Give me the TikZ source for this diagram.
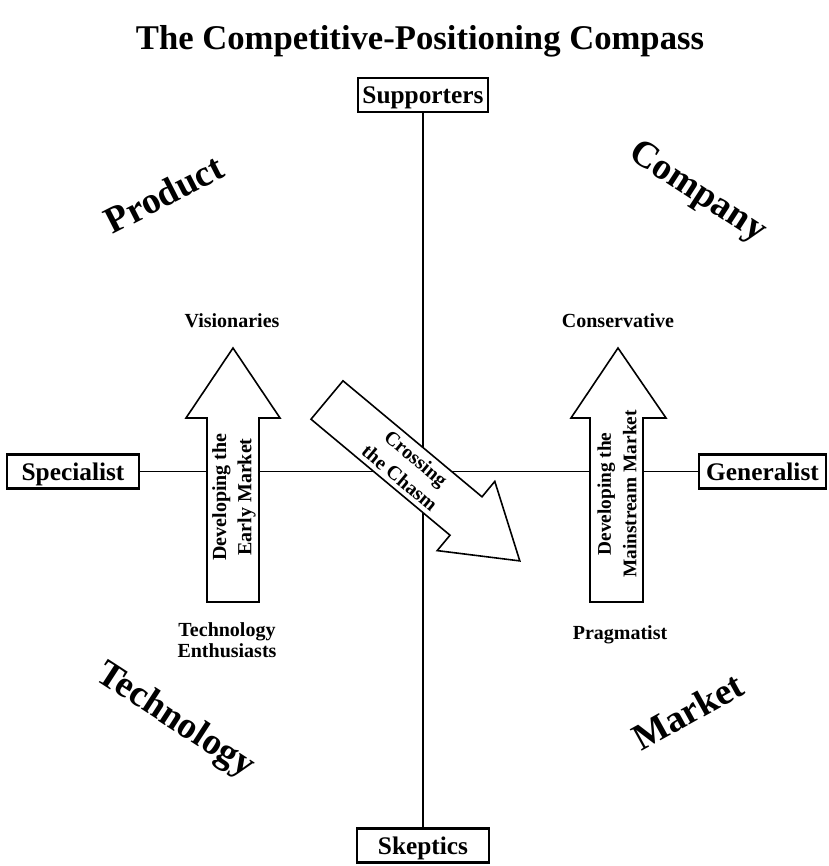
\documentclass[tikz,border=0pt]{standalone}
\usepackage{fontspec}
\setmainfont{Liberation Serif}
\begin{document}
\begin{tikzpicture}[x=0.75pt,y=-0.75pt,
  pole/.style={draw, line width=1.6pt, inner sep=0pt, font=\fontsize{19}{21}\selectfont\bfseries, minimum height=25.5pt, text height=17pt, text depth=4pt},
  axisline/.style={line width=1.3pt},
  bigarrow/.style={draw, line width=1.2pt, fill=white, line join=miter},
  lbl/.style={font=\fontsize{15}{16}\selectfont\bfseries, align=center, inner sep=0pt},
  arrtext/.style={font=\fontsize{15}{19}\selectfont\bfseries, align=center, inner sep=0pt},
  quad/.style={font=\fontsize{28}{30}\selectfont\bfseries, inner sep=0pt}]
\useasboundingbox (0,0) rectangle (828,866);
\node[font=\fontsize{26}{28}\selectfont\bfseries] (title) at (420,41) {The Competitive-Positioning Compass};
\node[pole, minimum width=98pt] (sup) at (423,95) {Supporters};
\node[pole, minimum width=99pt] (skep) at (423,845.5) {Skeptics};
\node[pole, minimum width=99pt] (spec) at (73,471.5) {Specialist};
\node[pole, minimum width=95pt] (gen) at (762.5,471.5) {Generalist};
\draw[axisline] (sup) -- (skep);
\draw[axisline] (spec) -- (gen);
% early market arrow
\draw[bigarrow] (207,602) -- (207,418) -- (186,418) -- (233,348) -- (280,418) -- (259,418) -- (259,602) -- cycle;
% mainstream market arrow
\draw[bigarrow] (590,602) -- (590,418) -- (571,418) -- (618,348) -- (666,418) -- (643,418) -- (643,602) -- cycle;
% crossing the chasm arrow
\draw[bigarrow] (343,380.8) -- (482,496.8) -- (494.8,481.4) -- (519.8,560.9) -- (437.2,550.6) -- (450,535.2) -- (311,419.2) -- cycle;
\node[arrtext, rotate=90] (early) at (234,497) {Developing the\\Early Market};
\node[arrtext, rotate=90, font=\fontsize{14.5}{19}\selectfont\bfseries] (main) at (617,494) {Developing the\\Mainstream Market};
\node[arrtext, rotate=-39.8] (chasm) at (408,468) {Crossing\\the Chasm};
\node[lbl] (vis) at (232,321) {Visionaries};
\node[lbl] (tech) at (227,640) {Technology\\Enthusiasts};
\node[lbl] (cons) at (618,321) {Conservative};
\node[lbl] (prag) at (620,635) {Pragmatist};
\node[quad, rotate=27] (product) at (164,194) {Product};
\node[quad, rotate=-33] (company) at (697,193) {Company};
\node[quad, rotate=-33] (technology) at (175,721) {Technology};
\node[quad, rotate=29] (market) at (688,711) {Market};
\end{tikzpicture}
\end{document}
